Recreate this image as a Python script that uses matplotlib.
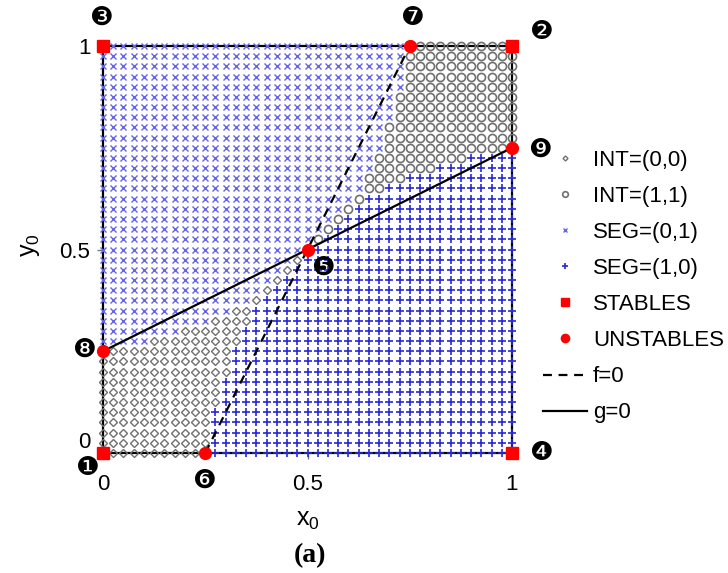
import numpy as np
import matplotlib
matplotlib.use("Agg")
import matplotlib.pyplot as plt

plt.rcParams["font.family"] = ["Liberation Sans", "DejaVu Sans"]
plt.rcParams["mathtext.default"] = "regular"

# grid of initial conditions (x0, y0), 41 x 41 points
grid_step = 0.025
n_steps = 40

# basin INT=(0,0): for each grid row, first and last grid column
int00_row = list(range(0, 20))
int00_first = [0, 0, 0, 0, 0, 0, 0, 0, 0, 0, 0, 5, 8, 11, 13, 15, 16, 17, 18, 19]
int00_last = [10, 10, 10, 10, 10, 11, 11, 11, 12, 12, 12, 13, 13, 14, 14, 15, 16, 17, 18, 19]

# basin INT=(1,1)
int11_row = list(range(21, 41))
int11_first = [21, 22, 23, 24, 25, 26, 26, 27, 27, 28, 28, 28, 29, 29, 29, 30, 30, 30, 30, 30]
int11_last = [21, 22, 23, 24, 25, 27, 29, 32, 35, 40, 40, 40, 40, 40, 40, 40, 40, 40, 40, 40]

# equilibria
stable_x = [0, 1, 0, 1]
stable_y = [0, 0, 1, 1]
unstable_x = [0.5, 0.25, 0.75, 0, 1]
unstable_y = [0.5, 0, 1, 0.25, 0.75]

# nullclines
f_x = [0.25, 0.75]
f_y = [0, 1]
g_x = [0, 1]
g_y = [0.25, 0.75]

# numbered equilibrium tags
tag_text = ["\u2776", "\u2777", "\u2778", "\u2779", "\u277a", "\u277b", "\u277c", "\u277d", "\u277e"]
tag_x = [-0.037, 1.073, -0.005, 1.07, 0.538, 0.249, 0.758, -0.044, 1.068]
tag_y = [-0.038, 1.035, 1.07, 0.0, 0.455, -0.068, 1.07, 0.253, 0.745]

# classify the grid points
classes = {"d": [], "o": [], "x": [], "+": []}
ranges00 = {r: (a, b) for r, a, b in zip(int00_row, int00_first, int00_last)}
ranges11 = {r: (a, b) for r, a, b in zip(int11_row, int11_first, int11_last)}
for j in range(n_steps + 1):
    for i in range(n_steps + 1):
        if i == j == n_steps // 2:
            continue
        if j in ranges00 and ranges00[j][0] <= i <= ranges00[j][1]:
            key = "d"
        elif j in ranges11 and ranges11[j][0] <= i <= ranges11[j][1]:
            key = "o"
        elif j > i:
            key = "x"
        else:
            key = "+"
        classes[key].append((i * grid_step, j * grid_step))

fig = plt.figure(figsize=(7.28, 5.73), dpi=100)
ax = fig.add_axes([103 / 728, 1 - 453 / 573, 409 / 728, 407 / 573])

ax.plot([0, 1, 1, 0, 0], [0, 0, 1, 1, 0], color="black", lw=1.6, zorder=1, clip_on=False)

style = {
    "d": dict(marker="D", ms=3.6, mfc="none", mec="#707070", mew=1.0, label="INT=(0,0)"),
    "o": dict(marker="o", ms=5.8, mfc="none", mec="#707070", mew=1.2, label="INT=(1,1)"),
    "x": dict(marker="x", ms=5.0, mec="#6464e6", mew=1.0, label="SEG=(0,1)"),
    "+": dict(marker="+", ms=5.3, mec="#2828d4", mew=1.2, label="SEG=(1,0)"),
}
for key in ["d", "o", "x", "+"]:
    pts = np.array(classes[key])
    ax.plot(pts[:, 0], pts[:, 1], ls="none", clip_on=False, zorder=2, **style[key])

ax.plot(stable_x, stable_y, ls="none", marker="s", ms=8.2, color="#ff0000",
        clip_on=False, zorder=5, label="STABLES")
ax.plot(unstable_x, unstable_y, ls="none", marker="o", ms=8.5, color="#ff0000",
        clip_on=False, zorder=5, label="UNSTABLES")
ax.plot(f_x, f_y, color="black", lw=1.6, ls=(0, (4, 3)), zorder=4, label="f=0")
ax.plot(g_x, g_y, color="black", lw=1.6, zorder=4, label="g=0")

for t, x, y in zip(tag_text, tag_x, tag_y):
    ax.text(x, y, t, fontsize=19, ha="center", va="center", family="DejaVu Sans")

ax.set_xlim(0, 1)
ax.set_ylim(0, 1)
for s in ax.spines.values():
    s.set_visible(False)
ax.set_xticks([0, 0.5, 1])
ax.set_xticklabels(["0", "0.5", "1"])
ax.set_yticks([0, 0.5, 1])
ax.set_yticklabels(["0", "0.5", "1"])
ax.tick_params(direction="out", length=4, width=1, color="#777777", labelsize=16)
ax.tick_params(axis="x", pad=11)
ax.tick_params(axis="y", pad=5)
ax.get_yticklabels()[0].set_verticalalignment("bottom")

ax.set_xlabel("x$_0$", fontsize=18)
ax.xaxis.set_label_coords(0.5, -0.135)
ax.set_ylabel("y$_0$", fontsize=18)
ax.yaxis.set_label_coords(-0.15, 0.51)

leg = ax.legend(loc="center left", bbox_to_anchor=(543 / 728, 1 - 286.5 / 573),
                bbox_transform=fig.transFigure, frameon=False, fontsize=16,
                markerscale=0.7, handlelength=2.0, handletextpad=0.25,
                labelspacing=0.68, borderpad=0, borderaxespad=0)

fig.text(310 / 728, 1 - 556 / 573, "(a)", fontsize=20, fontweight="bold",
         family="Liberation Serif", ha="center", va="center")

fig.savefig("out.png", dpi=100)
